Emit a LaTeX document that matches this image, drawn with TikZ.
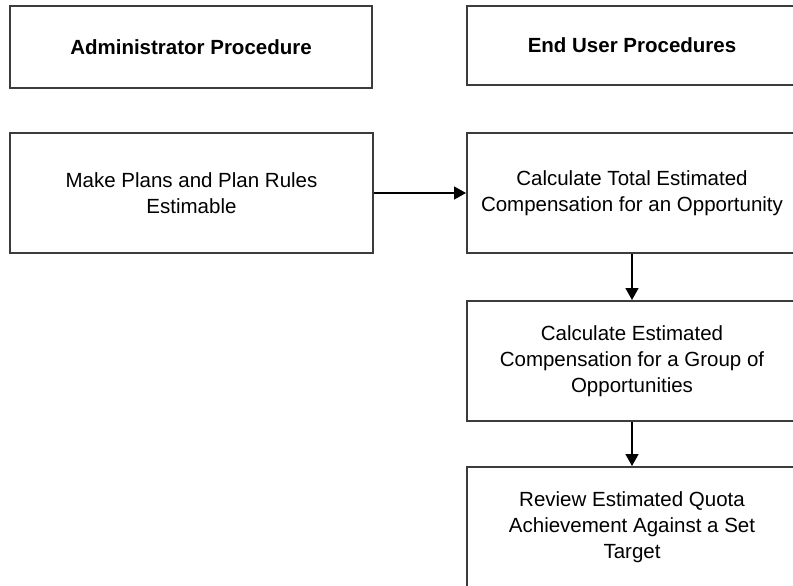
\documentclass[tikz,border=0pt]{standalone}
\usepackage{fontspec}
\setmainfont{Liberation Sans}
\usetikzlibrary{arrows.meta}
\definecolor{boxline}{HTML}{3C3C3C}
\tikzset{
  procbox/.style={draw=boxline, line width=2pt, fill=white, rectangle,
    align=center, inner sep=0pt, text=black,
    font=\fontsize{20.5}{26}\selectfont},
  headbox/.style={procbox, font=\fontsize{20.5}{26}\selectfont\bfseries},
  flow/.style={line width=1.6pt, -{Triangle[length=12pt,width=13pt]}}
}
\begin{document}
\begin{tikzpicture}[x=1pt, y=-1pt]
  \useasboundingbox (0,0) rectangle (793,586);
  \clip (0,0) rectangle (793,586);
  \fill[white] (0,0) rectangle (793,586);

  % column headings
  \node[headbox, minimum width=362pt, minimum height=82pt] (admin) at (191,47)
    {Administrator Procedure};
  \node[headbox, minimum width=330pt, minimum height=79pt] (enduser) at (632,45.5)
    {End User Procedures};

  % procedure steps
  \node[procbox, minimum width=363pt, minimum height=120pt] (plans) at (191.5,193)
    {Make Plans and Plan Rules\\Estimable};
  \node[procbox, minimum width=330pt, minimum height=120pt] (total) at (632,193)
    {Calculate Total Estimated\\Compensation for an Opportunity};
  \node[procbox, minimum width=330pt, minimum height=120pt] (group) at (632,361)
    {Calculate Estimated\\Compensation for a Group of\\Opportunities};
  \node[procbox, minimum width=330pt, minimum height=120pt] (quota) at (632,527)
    {Review Estimated Quota\\Achievement Against a Set\\Target};

  % connectors
  \draw[flow] (plans.east) -- (total.west);
  \draw[flow] (total.south) -- (group.north);
  \draw[flow] (group.south) -- (quota.north);
\end{tikzpicture}
\end{document}
